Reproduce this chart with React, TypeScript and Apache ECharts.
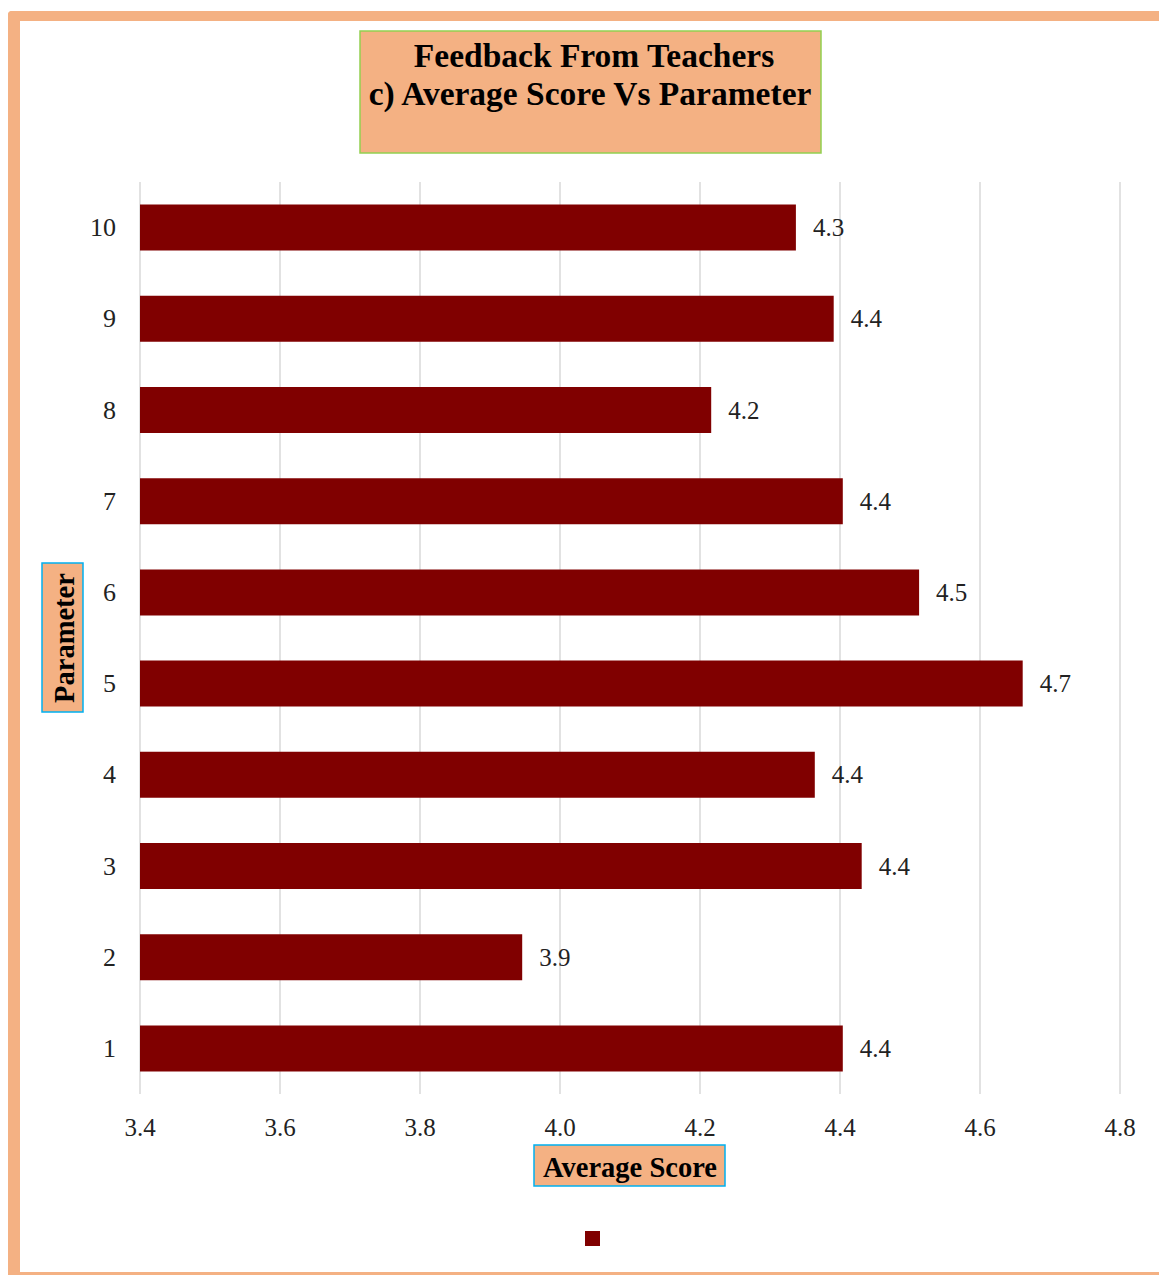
import React, { useEffect, useRef } from "react";
import * as echarts from "echarts";

const categories = ["1", "2", "3", "4", "5", "6", "7", "8", "9", "10"];
const scores = [4.404, 3.946, 4.431, 4.364, 4.661, 4.513, 4.404, 4.216, 4.391, 4.337];
const xTicks = { min: 3.4, max: 4.8, interval: 0.2 };
const titleLines = ["Feedback From Teachers", "c) Average Score Vs Parameter"];
const xName = "Average Score";
const yName = "Parameter";

const SERIF = "'Liberation Serif', 'DejaVu Serif', serif";
const PEACH = "#F4B183";
const MAROON = "#800000";

export default function App() {
  const ref = useRef<HTMLDivElement>(null);
  useEffect(() => {
    if (!ref.current) return;
    const chart = echarts.init(ref.current, null, { renderer: "svg" });
    chart.setOption({
      animation: false,
      backgroundColor: "#ffffff",
      textStyle: { fontFamily: SERIF },
      grid: { left: 140, right: 39, top: 182, bottom: 181, containLabel: false },
      legend: {
        show: true,
        left: 585,
        top: 1231,
        padding: 0,
        itemWidth: 15,
        itemHeight: 15,
        icon: "rect",
        formatter: () => "",
        data: ["Score"],
      },
      xAxis: {
        type: "value",
        min: xTicks.min,
        max: xTicks.max,
        interval: xTicks.interval,
        axisLine: { show: false },
        axisTick: { show: false },
        axisLabel: {
          formatter: (v: number) => v.toFixed(1),
          fontSize: 25,
          color: "#222",
          margin: 21,
          fontFamily: SERIF,
        },
        splitLine: { show: true, lineStyle: { color: "#D9D9D9", width: 1.5 } },
      },
      yAxis: {
        type: "category",
        data: categories,
        axisLine: { show: false },
        axisTick: { show: false },
        axisLabel: { fontSize: 26, color: "#222", margin: 24, fontFamily: SERIF },
        splitLine: { show: false },
      },
      series: [
        {
          name: "Score",
          type: "bar",
          data: scores,
          barWidth: 46,
          itemStyle: { color: MAROON },
          label: {
            show: true,
            position: "right",
            distance: 17,
            fontSize: 25,
            color: "#222",
            fontFamily: SERIF,
            formatter: (p: any) => Number(p.value).toFixed(1),
          },
        },
      ],
      graphic: [
        { type: "rect", shape: { x: 8, y: 11, width: 12, height: 1264, r: [4, 0, 0, 0] }, style: { fill: PEACH } },
        { type: "rect", shape: { x: 8, y: 11, width: 1151, height: 10, r: [4, 0, 0, 0] }, style: { fill: PEACH } },
        { type: "rect", shape: { x: 8, y: 1272, width: 1151, height: 3 }, style: { fill: PEACH } },
        {
          type: "rect",
          shape: { x: 360, y: 31, width: 461, height: 122 },
          style: { fill: PEACH, stroke: "#92D050", lineWidth: 1.5 },
        },
        {
          type: "text",
          x: 594,
          y: 55,
          style: {
            text: titleLines[0],
            font: `bold 33.5px ${SERIF}`,
            fill: "#000",
            textAlign: "center",
            textVerticalAlign: "middle",
          },
        },
        {
          type: "text",
          x: 590,
          y: 93,
          style: {
            text: titleLines[1],
            font: `bold 33.5px ${SERIF}`,
            fill: "#000",
            textAlign: "center",
            textVerticalAlign: "middle",
          },
        },
        {
          type: "rect",
          shape: { x: 534, y: 1145, width: 191, height: 41 },
          style: { fill: PEACH, stroke: "#00B0F0", lineWidth: 1.5 },
        },
        {
          type: "text",
          x: 630,
          y: 1167,
          style: {
            text: xName,
            font: `bold 28.5px ${SERIF}`,
            fill: "#000",
            textAlign: "center",
            textVerticalAlign: "middle",
          },
        },
        {
          type: "rect",
          shape: { x: 42, y: 563, width: 41, height: 149 },
          style: { fill: PEACH, stroke: "#00B0F0", lineWidth: 1.5 },
        },
        {
          type: "text",
          x: 64,
          y: 638,
          rotation: Math.PI / 2,
          style: {
            text: yName,
            font: `bold 28.5px ${SERIF}`,
            fill: "#000",
            textAlign: "center",
            textVerticalAlign: "middle",
          },
        },
      ],
    });
    return () => chart.dispose();
  }, []);
  return (
    <div
      ref={ref}
      style={{ position: "absolute", left: 0, top: 0, width: 1159, height: 1275 }}
    />
  );
}
